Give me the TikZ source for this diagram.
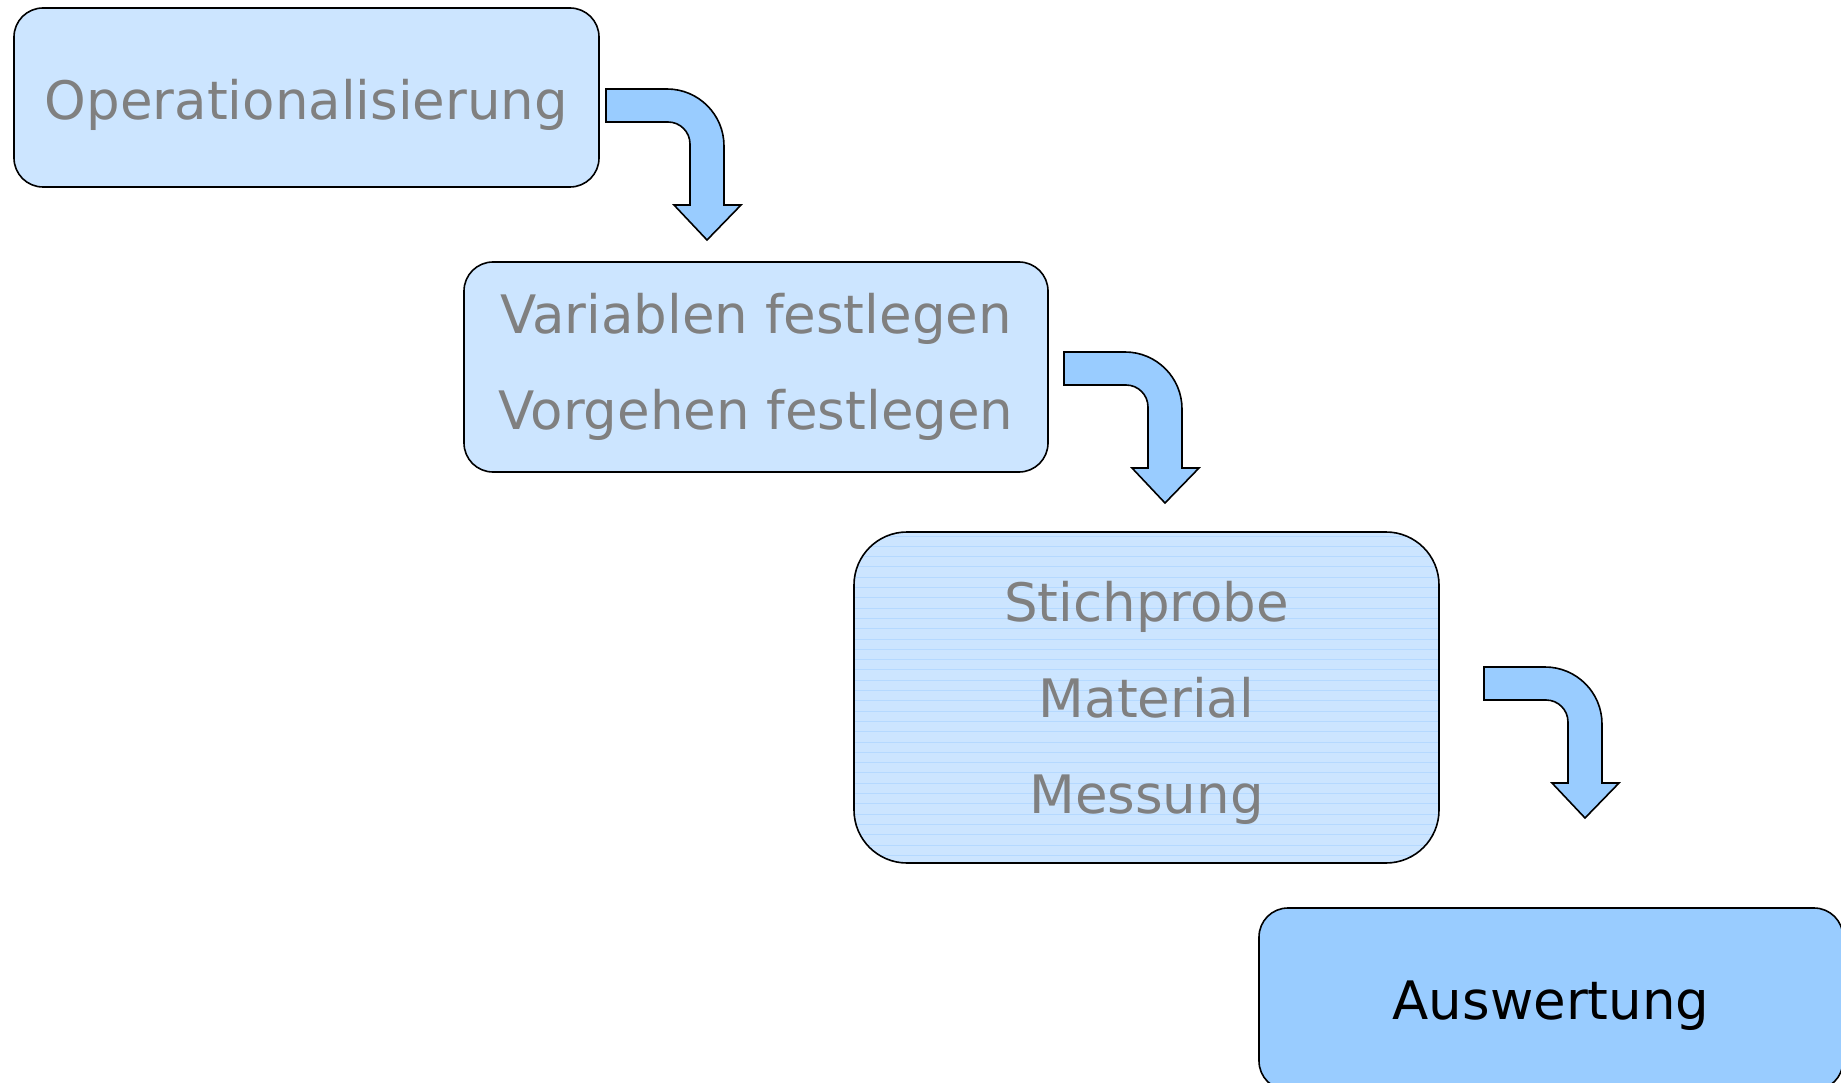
\documentclass[tikz,border=0pt]{standalone}
\usepackage{fontspec}
\setmainfont{DejaVu Sans}
\definecolor{lightblue}{HTML}{CCE5FF}
\definecolor{midblue}{HTML}{99CCFF}
\definecolor{stripeblue}{HTML}{B5D9FF}
\definecolor{textgray}{HTML}{808080}

\begin{document}
\begin{tikzpicture}
      [%%%%%%%%%%%%%%%%%%%%%%%%%%%%%%
      x=1pt,y=-1pt,
      box/.style={rectangle,draw=black,line width=1.6pt,rounded corners=29pt,
        fill=lightblue,text=textgray,align=center,
        font=\fontsize{53}{96}\selectfont},
      bendarrow/.style={draw=black,line width=1.6pt,fill=midblue,line join=miter},
      stripes/.style={stripeblue,line width=1pt},
      turn/.pic={
        \path[bendarrow] (0,0) -- (61,0) arc[start angle=-90,end angle=0,radius=57]
          -- (118,116) -- (135,116) -- (101,151) -- (68,116) -- (84,116) -- (84,55)
          arc[start angle=0,end angle=-90,radius=22] -- (0,33) -- cycle;
      },
      ]%%%%%%%%%%%%%%%%%%%%%%%%%%%%%%

      \useasboundingbox (0,0) rectangle (1841,1083);
      \clip (0,0) rectangle (1841,1083);

      \node[box,minimum width=585pt,minimum height=179pt,text height=56pt] (oper) at (306.5,97.5) {Operationalisierung};
      \node[box,minimum width=584pt,minimum height=210pt] (plan) at (756,367) {Variablen festlegen\\Vorgehen festlegen};
      \node[box,minimum width=585pt,minimum height=331pt,rounded corners=53pt,text height=244pt,
        path picture={
          \foreach \k in {0,...,33}
            \draw[stripes] ([yshift=-\k*10.3pt-4pt]path picture bounding box.north west) -- ++(600,0);
        }] (ablauf) at (1146.5,697.5) {Stichprobe\\Material\\Messung};
      \node[box,fill=midblue,text=black,minimum width=584pt,minimum height=182pt,text height=52pt] (ausw) at (1551,999) {Auswertung};

      \pic at (606,89) {turn};
      \pic at (1064,352) {turn};
      \pic at (1484,667) {turn};
    \end{tikzpicture}
\end{document}
